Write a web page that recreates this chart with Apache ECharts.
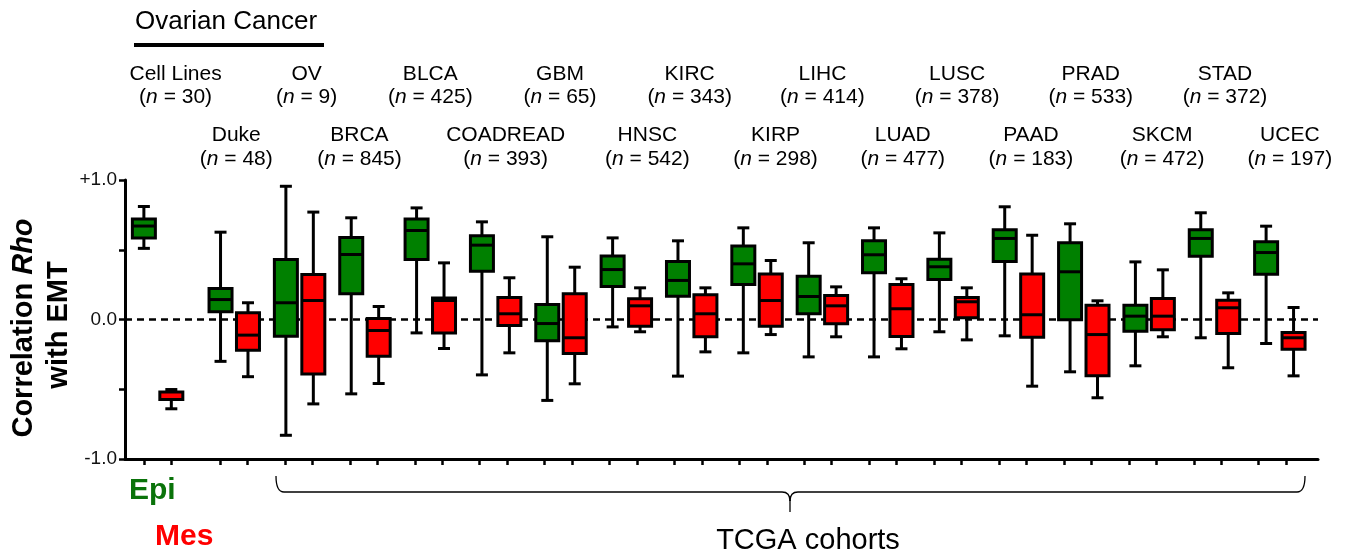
<!DOCTYPE html>
<html><head><meta charset="utf-8">
<script src="https://cdn.jsdelivr.net/npm/echarts@6/dist/echarts.min.js"></script>
<style>html,body{margin:0;padding:0;background:#fff}#c{width:1348px;height:558px}</style>
</head><body><div id="c"></div>
<script>
// ---------------- DATA ----------------
const cohorts = ['Cell Lines','Duke','OV','BRCA','BLCA','COADREAD','GBM','HNSC','KIRC','KIRP','LIHC','LUAD','LUSC','PAAD','PRAD','SKCM','STAD','UCEC'];
const nValues = [30,48,9,845,425,393,65,542,343,298,414,477,378,183,533,472,372,197];
// [lower whisker, Q1, median, Q3, upper whisker]
const epiStats = [
  [0.51, 0.585, 0.67, 0.72, 0.81],
  [-0.30, 0.055, 0.143, 0.222, 0.626],
  [-0.83, -0.12, 0.12, 0.43, 0.955],
  [-0.533, 0.184, 0.466, 0.588, 0.729],
  [-0.096, 0.43, 0.638, 0.72, 0.80],
  [-0.397, 0.346, 0.533, 0.60, 0.70],
  [-0.58, -0.153, -0.029, 0.108, 0.593],
  [-0.053, 0.237, 0.358, 0.456, 0.585],
  [-0.406, 0.167, 0.28, 0.416, 0.564],
  [-0.239, 0.251, 0.399, 0.526, 0.657],
  [-0.268, 0.041, 0.165, 0.31, 0.55],
  [-0.268, 0.335, 0.464, 0.564, 0.657],
  [-0.088, 0.287, 0.378, 0.432, 0.621],
  [-0.117, 0.416, 0.581, 0.643, 0.808],
  [-0.375, -0.002, 0.342, 0.55, 0.686],
  [-0.332, -0.084, 0.024, 0.103, 0.413],
  [-0.131, 0.454, 0.581, 0.643, 0.765],
  [-0.172, 0.325, 0.48, 0.557, 0.669]
];
const mesStats = [
  [-0.64, -0.573, -0.54, -0.52, -0.502],
  [-0.41, -0.22, -0.112, 0.048, 0.12],
  [-0.605, -0.39, 0.136, 0.323, 0.77],
  [-0.459, -0.263, -0.079, 0.007, 0.093],
  [-0.208, -0.096, 0.136, 0.155, 0.406],
  [-0.239, -0.043, 0.041, 0.158, 0.299],
  [-0.461, -0.244, -0.131, 0.184, 0.375],
  [-0.088, -0.048, 0.098, 0.148, 0.227],
  [-0.232, -0.124, 0.041, 0.177, 0.227],
  [-0.108, -0.048, 0.136, 0.327, 0.423],
  [-0.124, -0.031, 0.098, 0.172, 0.234],
  [-0.21, -0.122, 0.077, 0.251, 0.292],
  [-0.146, 0.012, 0.127, 0.158, 0.227],
  [-0.478, -0.127, 0.034, 0.327, 0.604],
  [-0.561, -0.404, -0.108, 0.103, 0.134],
  [-0.124, -0.074, 0.024, 0.151, 0.356],
  [-0.346, -0.1, 0.084, 0.138, 0.191],
  [-0.404, -0.213, -0.131, -0.093, 0.086]
];
const yTickLabels = {'-1': '-1.0', '0': '0.0', '1': '+1.0'};
const seriesNames = ['Epi', 'Mes'];

// ---------------- LAYOUT / STYLE ----------------
const FONT = "'Liberation Sans', Arial, Helvetica, sans-serif";
const GREEN = '#008000', RED = '#ff0000';
const GAP = 0.173;       // extra gap after the cell-line group (axis units)
const PAIR = 0.21;       // half distance between Epi and Mes boxes (axis units)
const TICK_DRIFT = 0.0067;
const BOX_W = 23, CAP_W = 12;
const LABEL_DX = [18, 2, 7, -5.5, 0, 10, -1, 21, -2, 18.5, 0, 15, 4, 12.5, 7, 13, 10.5, 10];

const centers = cohorts.map((c, i) => i + (i > 0 ? GAP : 0));
const epiData = epiStats.map((s, i) => [centers[i] - PAIR].concat(s));
const mesData = mesStats.map((s, i) => [centers[i] + PAIR].concat(s));
const tickVals = [];
centers.forEach((c, i) => { tickVals.push(c - PAIR - TICK_DRIFT * i, c + PAIR - TICK_DRIFT * i); });

function makeRender(color) {
  return function (params, api) {
    const x = api.value(0);
    const p = [1, 2, 3, 4, 5].map(k => api.coord([x, api.value(k)]));
    const cx = p[0][0];
    const yMin = p[0][1], yQ1 = p[1][1], yMed = p[2][1], yQ3 = p[3][1], yMax = p[4][1];
    const ls = {stroke: '#000', lineWidth: 3};
    const ch = [
      {type: 'line', shape: {x1: cx, y1: yMax, x2: cx, y2: yQ3}, style: ls},
      {type: 'line', shape: {x1: cx, y1: yQ1, x2: cx, y2: yMin}, style: ls},
      {type: 'line', shape: {x1: cx - CAP_W / 2, y1: yMax, x2: cx + CAP_W / 2, y2: yMax}, style: ls},
      {type: 'line', shape: {x1: cx - CAP_W / 2, y1: yMin, x2: cx + CAP_W / 2, y2: yMin}, style: ls},
      {type: 'rect', shape: {x: cx - BOX_W / 2, y: yQ3, width: BOX_W, height: yQ1 - yQ3},
        style: {fill: color, stroke: '#000', lineWidth: 3}}
    ];
    if (yQ1 - yQ3 > 10) {
      ch.push({type: 'line', shape: {x1: cx - BOX_W / 2, y1: yMed, x2: cx + BOX_W / 2, y2: yMed}, style: ls});
    }
    return {type: 'group', children: ch};
  };
}

const chart = echarts.init(document.getElementById('c'), null, {renderer: 'canvas'});
const option = {
  animation: false,
  backgroundColor: '#fff',
  grid: {left: 125, right: 30, top: 180, bottom: 99, containLabel: false},
  xAxis: {
    type: 'value', min: -0.4989, max: 17.757,
    axisLine: {show: true, onZero: false, lineStyle: {color: '#000', width: 3}},
    axisTick: {show: true, customValues: tickVals, length: 6, lineStyle: {color: '#000', width: 2.5}},
    axisLabel: {show: false},
    splitLine: {show: false}
  },
  yAxis: {
    type: 'value', min: -1, max: 1, interval: 0.5,
    axisLine: {show: true, onZero: false, lineStyle: {color: '#000', width: 3}},
    axisTick: {show: true, length: 6, lineStyle: {color: '#000', width: 2.5}},
    axisLabel: {
      show: true, margin: 8, color: '#111', fontSize: 19, fontFamily: FONT,
      formatter: v => { const k = String(Math.round(v * 2) / 2); return yTickLabels[k] || ''; }
    },
    splitLine: {show: false}
  },
  series: [
    {
      type: 'line', data: [], z: 1, silent: true,
      markLine: {
        silent: true, symbol: 'none', label: {show: false}, animation: false, z: 1,
        lineStyle: {type: [7, 5], color: '#000', width: 2.5},
        data: [{yAxis: 0}]
      }
    },
    {name: seriesNames[0], type: 'custom', z: 3, renderItem: makeRender(GREEN), data: epiData,
      encode: {x: 0, y: [1, 2, 3, 4, 5]}},
    {name: seriesNames[1], type: 'custom', z: 3, renderItem: makeRender(RED), data: mesData,
      encode: {x: 0, y: [1, 2, 3, 4, 5]}}
  ]
};
chart.setOption(option);

// ---------------- ANNOTATIONS ----------------
const g = [];
cohorts.forEach((name, i) => {
  const px = chart.convertToPixel({xAxisIndex: 0}, centers[i]) + LABEL_DX[i];
  const row = i % 2;
  g.push({type: 'text', x: px, y: row ? 135 : 74, z: 10,
    style: {text: name, font: '21px ' + FONT, fill: '#000', align: 'center', verticalAlign: 'middle'}});
  g.push({type: 'text', x: px, y: row ? 159.5 : 97.5, z: 10,
    style: {text: '({i|n} = ' + nValues[i] + ')', font: '21px ' + FONT, fill: '#000', align: 'center', verticalAlign: 'middle',
      rich: {i: {fontStyle: 'italic', fontSize: 21, fontFamily: FONT, fill: '#000'}}}});
});
// Ovarian cancer header
g.push({type: 'text', x: 226, y: 22, style: {text: 'Ovarian Cancer', font: '26px ' + FONT, fill: '#000', align: 'center', verticalAlign: 'middle'}});
g.push({type: 'line', shape: {x1: 134, y1: 45, x2: 324, y2: 45}, style: {stroke: '#000', lineWidth: 4}});
// y axis title
g.push({type: 'text', x: 24, y: 328, rotation: Math.PI / 2,
  style: {text: 'Correlation {i|Rho}', font: 'bold 29px ' + FONT, fill: '#000', align: 'center', verticalAlign: 'middle',
    rich: {i: {fontStyle: 'italic', fontWeight: 'bold', fontSize: 29, fontFamily: FONT, fill: '#000'}}}});
g.push({type: 'text', x: 59, y: 325, rotation: Math.PI / 2,
  style: {text: 'with EMT', font: 'bold 29px ' + FONT, fill: '#000', align: 'center', verticalAlign: 'middle'}});
// legend-like labels
g.push({type: 'text', x: 129, y: 491, style: {text: seriesNames[0], font: 'bold 30px ' + FONT, fill: '#0a730a', align: 'left', verticalAlign: 'middle'}});
g.push({type: 'text', x: 155, y: 537, style: {text: seriesNames[1], font: 'bold 30px ' + FONT, fill: RED, align: 'left', verticalAlign: 'middle'}});
// TCGA bracket
const bs = {stroke: '#000', lineWidth: 1.3, fill: null};
g.push({type: 'bezierCurve', shape: {x1: 276, y1: 476, cpx1: 276, cpy1: 492, x2: 284, y2: 492}, style: bs});
g.push({type: 'line', shape: {x1: 284, y1: 492, x2: 782, y2: 492}, style: bs});
g.push({type: 'bezierCurve', shape: {x1: 782, y1: 492, cpx1: 790, cpy1: 492, x2: 790, y2: 501}, style: bs});
g.push({type: 'bezierCurve', shape: {x1: 798, y1: 492, cpx1: 790, cpy1: 492, x2: 790, y2: 501}, style: bs});
g.push({type: 'line', shape: {x1: 790, y1: 500, x2: 790, y2: 512}, style: bs});
g.push({type: 'line', shape: {x1: 798, y1: 492, x2: 1297, y2: 492}, style: bs});
g.push({type: 'bezierCurve', shape: {x1: 1297, y1: 492, cpx1: 1305, cpy1: 492, x2: 1305, y2: 476}, style: bs});
g.push({type: 'text', x: 808, y: 541, style: {text: 'TCGA cohorts', font: '29px ' + FONT, fill: '#000', align: 'center', verticalAlign: 'middle'}});

chart.setOption({graphic: {elements: g}});
</script>
</body></html>
